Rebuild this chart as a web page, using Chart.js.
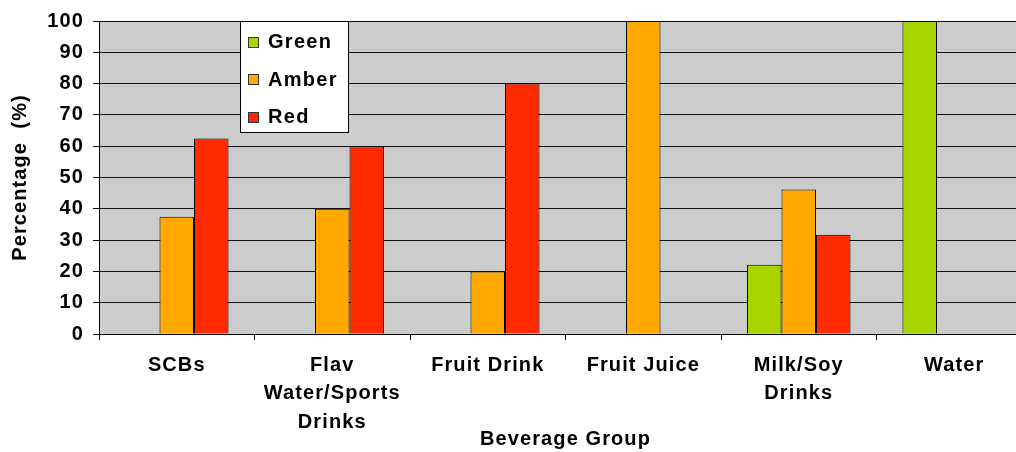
<!DOCTYPE html>
<html>
<head>
<meta charset="utf-8">
<script src="https://cdn.jsdelivr.net/npm/chart.js@4/dist/chart.umd.min.js"></script>
<style>
  html, body { margin: 0; padding: 0; background: #fff; overflow: hidden; }
  #wrap { width: 1032px; height: 452px; position: relative; }
</style>
</head>
<body>
<div id="wrap"><canvas id="c"></canvas></div>
<script>
const categories = [["SCBs"], ["Flav", "Water/Sports", "Drinks"], ["Fruit Drink"], ["Fruit Juice"], ["Milk/Soy", "Drinks"], ["Water"]];
const seriesNames = ["Green", "Amber", "Red"];
const greenValues = [0, 0, 0, 0, 22.1, 100];
const amberValues = [37.5, 40, 20, 100, 46.2, 0];
const redValues = [62.5, 60, 80, 0, 31.7, 0];
const yTicks = [0, 10, 20, 30, 40, 50, 60, 70, 80, 90, 100];
const seriesColors = ["#AAD400", "#FFA800", "#FF2A00"];

const FONT = { family: "'Liberation Sans', Arial, sans-serif", size: 20, weight: "bold" };
const SPACING = "1.1px";

const spacingPlugin = {
  id: "spacing",
  beforeDraw(chart) { chart.ctx.letterSpacing = SPACING; }
};

const legendPlugin = {
  id: "boxLegend",
  afterDraw(chart) {
    const ctx = chart.ctx;
    ctx.save();
    ctx.letterSpacing = "1.3px";
    const x = 240.5, y = 21.5, w = 108, h = 111;
    ctx.fillStyle = "#fff";
    ctx.fillRect(x, y, w, h);
    ctx.strokeStyle = "#000";
    ctx.lineWidth = 1;
    ctx.strokeRect(x, y, w, h);
    ctx.font = "bold 20px 'Liberation Sans', Arial, sans-serif";
    ctx.textBaseline = "middle";
    chart.data.datasets.forEach((ds, i) => {
      const cy = 41.5 + i * 37.5;
      ctx.fillStyle = ds.backgroundColor;
      ctx.fillRect(248, Math.round(cy) - 5, 10, 10);
      ctx.strokeStyle = "#333";
      ctx.strokeRect(248.5, Math.round(cy) - 4.5, 10, 10);
      ctx.fillStyle = "#000";
      ctx.fillText(ds.label, 268, cy + 1);
    });
    ctx.restore();
  }
};

const bgPlugin = {
  id: "plotBg",
  beforeDraw(chart) {
    const a = chart.chartArea, ctx = chart.ctx;
    ctx.save();
    ctx.fillStyle = "#CCCCCC";
    ctx.fillRect(a.left, a.top, a.right - a.left, a.bottom - a.top);
    ctx.restore();
  }
};

const valueSets = [greenValues, amberValues, redValues];

new Chart(document.getElementById("c"), {
  type: "bar",
  data: {
    labels: categories,
    datasets: seriesNames.map((name, i) => ({
      label: name,
      data: valueSets[i],
      backgroundColor: seriesColors[i],
      borderColor: "#000",
      borderWidth: 1,
      borderSkipped: "bottom",
      categoryPercentage: 0.666,
      barPercentage: 1.0
    }))
  },
  options: {
    responsive: true,
    maintainAspectRatio: false,
    animation: false,
    devicePixelRatio: 1,
    layout: { padding: { top: 19, right: 0, left: 0, bottom: 0 } },
    plugins: {
      legend: { display: false },
      tooltip: { enabled: false }
    },
    scales: {
      x: {
        offset: true,
        grid: { offset: true, drawOnChartArea: false, drawTicks: true, tickLength: 6, color: "#000" },
        border: { color: "#000", width: 1 },
        ticks: { color: "#000", font: Object.assign({}, FONT, { lineHeight: 1.42 }), padding: 11, maxRotation: 0, autoSkip: false },
        title: { display: true, text: "Beverage Group", color: "#000", font: FONT, padding: { top: 0, bottom: 1 } },
        afterFit(scale) { scale.height = 118; }
      },
      y: {
        min: 0,
        max: 100,
        afterBuildTicks(scale) { scale.ticks = yTicks.map(v => ({ value: v })); },
        grid: { color: "#111", lineWidth: 1, drawTicks: true, tickLength: 6 },
        border: { color: "#000", width: 1 },
        ticks: { color: "#000", font: FONT, padding: 9 },
        title: { display: true, text: "Percentage  (%)", color: "#000", font: FONT, padding: { top: 8, bottom: 0 } },
        afterFit(scale) { scale.width = 99; }
      }
    }
  },
  plugins: [spacingPlugin, bgPlugin, legendPlugin]
});
</script>
</body>
</html>
